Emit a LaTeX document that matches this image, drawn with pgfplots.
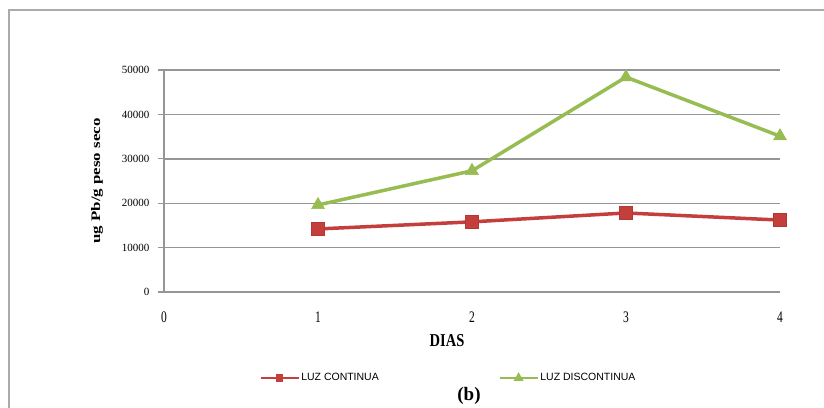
\documentclass[border=0pt]{standalone}
\usepackage{pgfplots}
\pgfplotsset{compat=1.18}
\usepackage{fontspec}
\setmainfont{Liberation Serif}
\newfontfamily\legfont{Liberation Sans}
\definecolor{exred}{RGB}{196,62,60}
\definecolor{exgreen}{RGB}{150,188,82}
\definecolor{gridgray}{RGB}{150,150,150}
\begin{document}
\begin{tikzpicture}[x=1pt,y=1pt]
\useasboundingbox (0,0) rectangle (824,407);
% outer frame
\draw[gridgray!80, line width=2pt] (9,-2) -- (9,397) -- (830,397);
\begin{axis}[
  at={(164pt,115pt)}, anchor=south west,
  scale only axis, width=616pt, height=222pt,
  xmin=0, xmax=4, ymin=0, ymax=50000,
  xtick={0,1,2,3,4},
  xticklabels={\scalebox{1}[1.4]{0},\scalebox{1}[1.4]{1},\scalebox{1}[1.4]{2},\scalebox{1}[1.4]{3},\scalebox{1}[1.4]{4}},
  ytick={0,10000,20000,30000,40000,50000},
  scaled y ticks=false,
  yticklabel style={/pgf/number format/fixed,/pgf/number format/1000 sep={},
    font=\fontsize{11}{12}\selectfont, xshift=-5pt},
  xticklabel style={font=\fontsize{11.5}{13}\selectfont, anchor=center, yshift=-19pt},
  /pgf/number format/assume math mode=true,
  ymajorgrids, grid style={gridgray, line width=1.4pt},
  axis lines*=left,
  x axis line style={draw=none},
  y axis line style={gridgray, line width=1.2pt, -},
  major x tick style={draw=none},
  ytick style={gridgray, line width=1.2pt},
  tick align=outside, major tick length=6pt,
  clip=false,
  legend style={draw=none, fill=none, at={(0.462,-0.387)}, anchor=center,
    font=\legfont\fontsize{10.5}{12}\selectfont, /tikz/every even column/.append style={column sep=118pt}},
  legend columns=2,
  legend image code/.code={\draw[#1, line width=1.5pt] (0pt,0pt) -- (38pt,0pt);
     \draw[#1, mark size=2.2pt, mark options={solid}] plot coordinates {(19pt,0pt)};},
]
\addplot[exred, line width=3.5pt, mark=square*, mark size=6.5pt, mark options={fill=exred, draw=exred!90!black, line width=0.5pt}]
  coordinates {(1,14200) (2,15800) (3,17800) (4,16200)};
\addlegendentry{LUZ CONTINUA}
\addplot[exgreen, line width=3.5pt, mark=triangle*, mark size=7.5pt, mark options={fill=exgreen, draw=exgreen, line width=0.5pt}]
  coordinates {(1,19600) (2,27300) (3,48400) (4,35100)};
\addlegendentry{LUZ DISCONTINUA}
\end{axis}
\node[font=\bfseries\fontsize{13}{14}\selectfont, rotate=90] at (97,226) {\scalebox{1.3}[1]{ug Pb/g peso seco}};
\node[font=\bfseries\fontsize{14.5}{16}\selectfont] at (447,66) {\scalebox{1}[1.25]{DIAS}};
\node[font=\bfseries\fontsize{19}{20}\selectfont] at (469,11) {(b)};
\end{tikzpicture}
\end{document}
